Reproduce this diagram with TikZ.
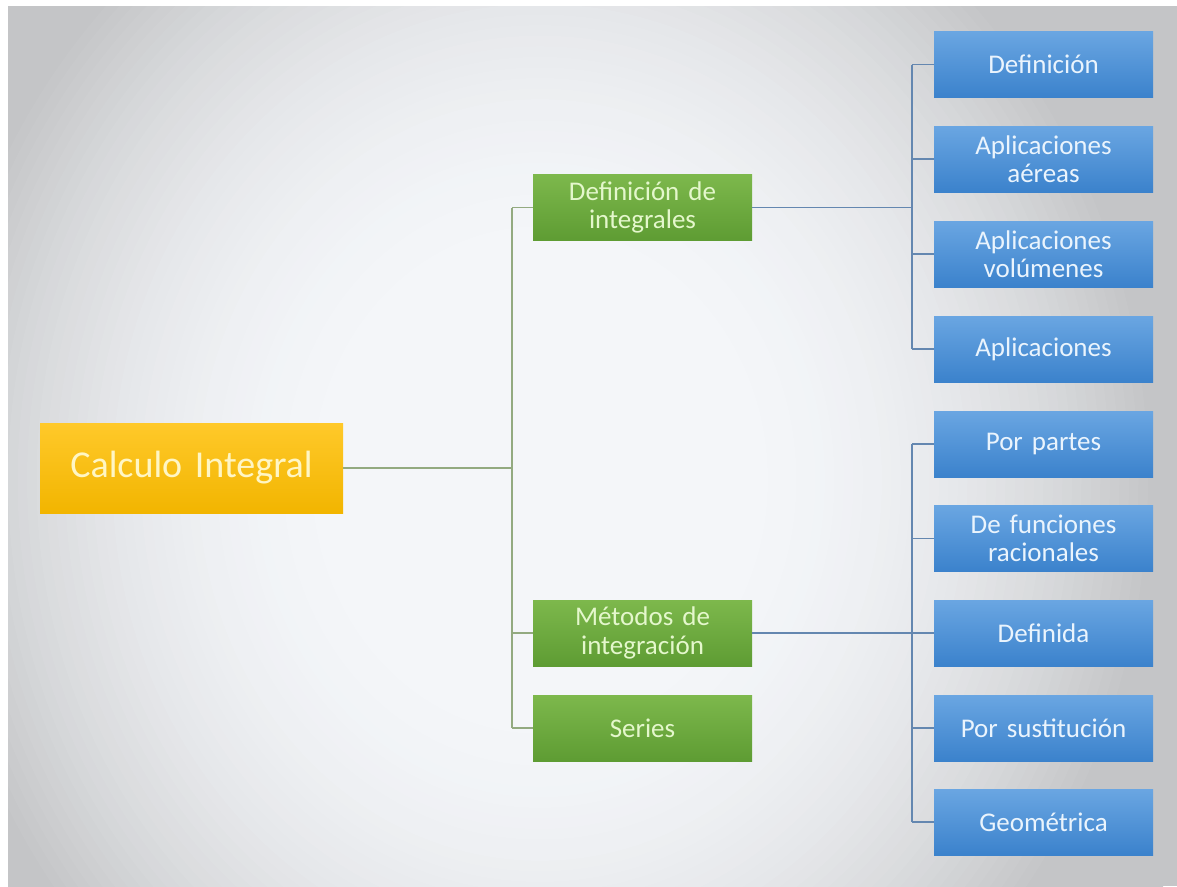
\documentclass[tikz,border=0pt]{standalone}
\usepackage{fontspec}
\setmainfont{Carlito}
\usetikzlibrary{calc}
\definecolor{bgin}{HTML}{F4F6F9}
\definecolor{bgout}{HTML}{C4C5C7}
\definecolor{bluetop}{HTML}{6AA6E2}
\definecolor{bluebot}{HTML}{3B82CC}
\definecolor{greentop}{HTML}{7DB84C}
\definecolor{greenbot}{HTML}{5E9C33}
\definecolor{orangetop}{HTML}{FFC92A}
\definecolor{orangebot}{HTML}{F2B500}
\definecolor{bluetext}{HTML}{EAF4FD}
\definecolor{greentext}{HTML}{E4F7CC}
\definecolor{orangetext}{HTML}{FFF6C4}
\definecolor{gline}{HTML}{93AA80}
\definecolor{bline}{HTML}{6487B0}
\tikzset{
  leafbox/.style={rectangle, minimum width=219pt, minimum height=66pt, inner sep=1pt,
    top color=bluetop, bottom color=bluebot, text=bluetext, font=\fontsize{27}{28.5}\selectfont,
    align=center, text width=215pt},
  midbox/.style={rectangle, minimum width=219pt, minimum height=66pt, inner sep=1pt,
    top color=greentop, bottom color=greenbot, text=greentext, font=\fontsize{27}{28.5}\selectfont,
    align=center, text width=215pt},
  rootbox/.style={rectangle, minimum width=303pt, minimum height=90pt, inner sep=2pt,
    top color=orangetop, bottom color=orangebot, text=orangetext, font=\fontsize{38}{42}\selectfont,
    align=center, text width=295pt},
  gconn/.style={draw=gline, line width=1.3pt},
  bconn/.style={draw=bline, line width=1.3pt}
}
\begin{document}
\begin{tikzpicture}[x=1pt,y=-1pt]
\useasboundingbox (0,0) rectangle (1177,886);
\fill[white] (0,0) rectangle (1177,886);
\begin{scope}
\clip (8,6) rectangle (1177,886);
\fill[bgout] (8,6) rectangle (1177,886);
\foreach \i in {0,...,55} {
  \pgfmathsetmacro\r{760-10*\i}
  \pgfmathsetmacro\q{max(min(\r-200,450),0.01)/450}
  \pgfmathtruncatemacro\p{100*(1-pow(\q,2))}
  \pgfmathsetmacro\rx{\r*0.95}
  \pgfmathsetmacro\ry{\r*1.058}
  \fill[bgin!\p!bgout] (540,480) ellipse [x radius=\rx, y radius=\ry];
}
\end{scope}

% root
\node[rootbox] (ci) at (191.5,468) {Calculo Integral};

% middle level
\node[midbox] (gdef) at (642.5,207.5) {Definición de\\integrales};
\node[midbox] (gmet) at (642.5,633) {Métodos de\\integración};
\node[midbox] (gser) at (642.5,728) {Series};

% leaves
\node[leafbox] (b1) at (1043.5,64.5) {Definición};
\node[leafbox] (b2) at (1043.5,159) {Aplicaciones\\aéreas};
\node[leafbox] (b3) at (1043.5,254) {Aplicaciones\\volúmenes};
\node[leafbox] (b4) at (1043.5,349) {Aplicaciones};
\node[leafbox] (b5) at (1043.5,444) {Por partes};
\node[leafbox] (b6) at (1043.5,538.5) {De funciones\\racionales};
\node[leafbox] (b7) at (1043.5,633) {Definida};
\node[leafbox] (b8) at (1043.5,728) {Por sustitución};
\node[leafbox] (b9) at (1043.5,822) {Geométrica};

% junction columns
\coordinate (jl) at (512,0);
\coordinate (jr) at (912,0);

% left tree
\draw[gconn] (ci.east) -- (jl |- ci.east);
\draw[gconn] (jl |- gdef.west) -- (jl |- gser.west);
\draw[gconn] (jl |- gdef.west) -- (gdef.west);
\draw[gconn] (jl |- gmet.west) -- (gmet.west);
\draw[gconn] (jl |- gser.west) -- (gser.west);

% upper right tree
\draw[bconn] (gdef.east) -- (jr |- gdef.east);
\draw[bconn] (jr |- b1.west) -- (jr |- b4.west);
\foreach \n in {b1,b2,b3,b4} {\draw[bconn] (jr |- \n.west) -- (\n.west);}

% lower right tree
\draw[bconn] (gmet.east) -- (jr |- gmet.east);
\draw[bconn] (jr |- b5.west) -- (jr |- b9.west);
\foreach \n in {b5,b6,b7,b8,b9} {\draw[bconn] (jr |- \n.west) -- (\n.west);}
\end{tikzpicture}
\end{document}
